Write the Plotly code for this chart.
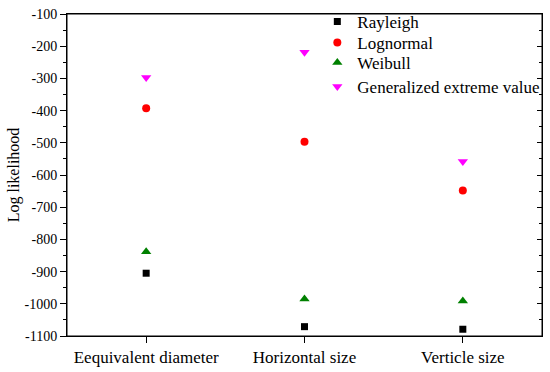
import plotly.graph_objects as go

categories = ["Eequivalent diameter", "Horizontal size", "Verticle size"]
rayleigh = [-905, -1071, -1079]
lognormal = [-393, -497, -648]
weibull = [-838, -985, -991]
gev = [-297, -219, -558]
ytick_vals = list(range(-1100, 0, 100))
ytick_text = [str(v) for v in ytick_vals]

series = [
    ("Rayleigh", rayleigh, "square", "black", 7, "legend", 1.031),
    ("Lognormal", lognormal, "circle", "red", 8, "legend2", 0.966),
    ("Weibull", weibull, "triangle-up", "green", 9, "legend3", 0.904),
    ("Generalized extreme value", gev, "triangle-down", "magenta", 9, "legend4", 0.829),
]

font = "Liberation Serif"
fig = go.Figure()
legends = {}
for name, vals, sym, col, sz, leg, ly in series:
    fig.add_trace(go.Scatter(
        x=[0, 1, 2], y=vals, mode="markers", name=name, legend=leg,
        marker=dict(symbol=sym, color=col, size=sz, line=dict(width=0)),
    ))
    legends[leg] = dict(x=0.527, y=ly, xanchor="left", yanchor="top",
                        bgcolor="rgba(0,0,0,0)", font=dict(size=17, family=font),
                        itemsizing="trace")
fig.add_trace(go.Scatter(x=[0], y=[-500], yaxis="y2", mode="markers",
                         marker=dict(opacity=0), showlegend=False, hoverinfo="skip"))

fig.update_layout(
    width=550, height=372,
    margin=dict(l=67, r=8, t=14, b=36, autoexpand=False),
    paper_bgcolor="white", plot_bgcolor="white",
    font=dict(family=font, size=15, color="black"),
    showlegend=True,
    **legends,
    xaxis=dict(
        range=[-0.5, 2.5], tickvals=[0, 1, 2], ticktext=categories,
        showgrid=False, zeroline=False, showline=True, linecolor="black", linewidth=1,
        mirror=True, ticks="outside", ticklen=6, tickcolor="black",
        tickfont=dict(size=17, family=font),
    ),
    yaxis=dict(
        range=[-1100, -100], tickvals=ytick_vals, ticktext=ytick_text,
        showgrid=False, zeroline=False, showline=True, linecolor="black", linewidth=1,
        mirror=True, ticks="outside", ticklen=6, tickcolor="black",
        minor=dict(ticks="outside", ticklen=3, dtick=50, tickcolor="black"),
        tickfont=dict(size=14, family=font),
        title=dict(text="Log likelihood", font=dict(size=16, family=font), standoff=0),
    ),
    yaxis2=dict(
        range=[-1100, -100], overlaying="y", side="right", anchor="x",
        tickvals=ytick_vals, showticklabels=False,
        showgrid=False, zeroline=False, showline=False,
        ticks="inside", ticklen=5, tickcolor="black", tickwidth=1,
        minor=dict(ticks="inside", ticklen=3, dtick=50, tickcolor="black"),
    ),
    shapes=[dict(type="rect", xref="paper", yref="paper", x0=0, y0=0, x1=1, y1=1,
                 line=dict(color="black", width=1), fillcolor="rgba(0,0,0,0)", layer="above")],
)

fig.write_html("out.html", config={"displayModeBar": False},
               post_script="document.body.style.margin='0';")
